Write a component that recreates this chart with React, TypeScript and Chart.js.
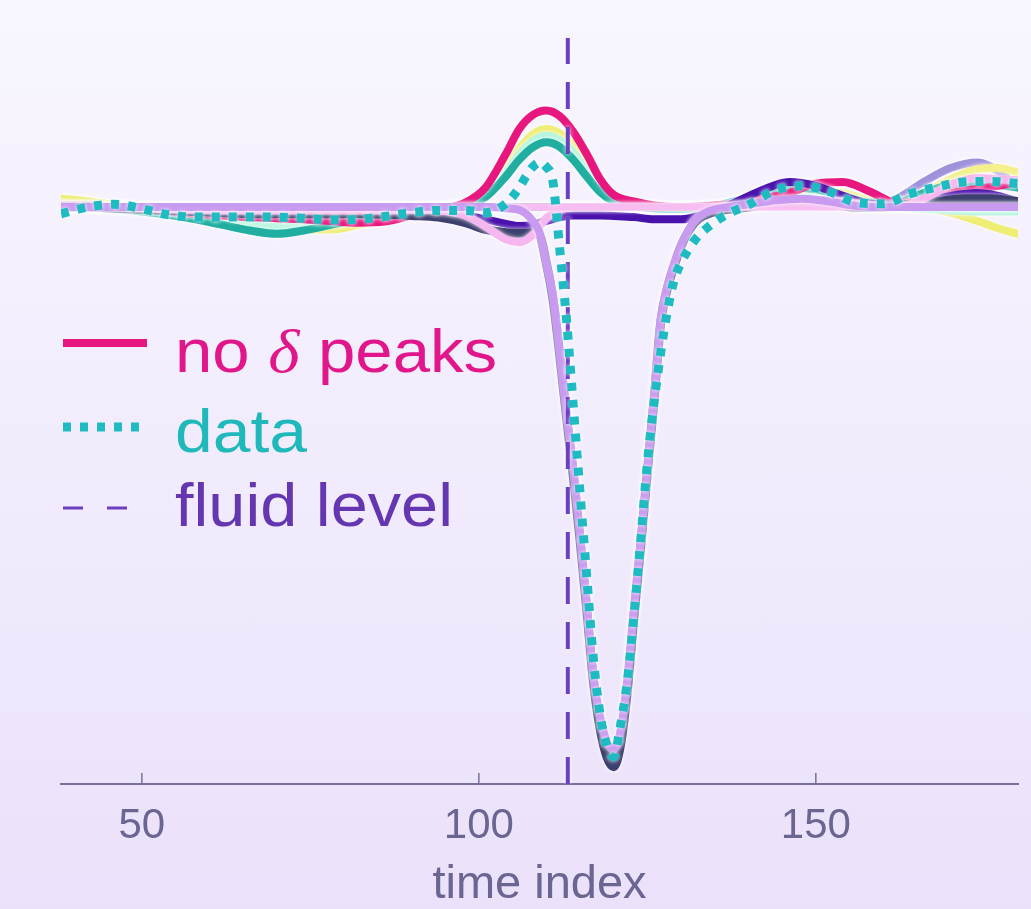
import React, { useEffect, useRef } from "react";
import { Chart, registerables } from "chart.js";

Chart.register(...registerables);

// ---------- data ----------
const timeCoarse = [38, 42, 46, 50, 54, 58, 62, 66, 70, 74, 78, 82, 86, 90, 94, 98, 101, 104, 106, 108, 110, 112, 114, 116, 118, 120, 123, 126, 130, 134, 138, 142, 146, 150, 154, 158, 162, 166, 170, 174, 177, 180];

const timeFine = [38, 42, 46, 50, 54, 58, 62, 66, 70, 74, 78, 82, 86, 90, 94, 98, 101, 104, 106, 107, 108, 109, 110, 111, 112, 113, 114, 115, 116, 117, 118, 119, 120, 121, 122, 123, 124, 125, 126, 127, 128, 129, 130, 132, 134, 137, 140, 144, 148, 152, 156, 160, 164, 168, 172, 176, 180];

// coarse-grid model curves
const noDeltaPeaks = [0.003, 0.003, 0.0, -0.003, -0.008, -0.012, -0.015, -0.018, -0.02, -0.022, -0.025, -0.028, -0.026, -0.015, -0.005, 0.008, 0.035, 0.095, 0.14, 0.165, 0.173, 0.163, 0.135, 0.095, 0.05, 0.022, 0.01, 0.003, 0.0, 0.002, 0.006, 0.015, 0.025, 0.042, 0.045, 0.028, 0.008, 0.01, 0.025, 0.033, 0.038, 0.045];
const yellowModel = [0.015, 0.01, 0.004, -0.002, -0.01, -0.02, -0.03, -0.04, -0.042, -0.04, -0.04, -0.032, -0.02, -0.01, -0.003, 0.006, 0.025, 0.07, 0.105, 0.13, 0.14, 0.132, 0.11, 0.075, 0.04, 0.018, 0.006, 0.0, -0.004, -0.004, 0.0, 0.01, 0.02, 0.028, 0.025, 0.012, 0.005, 0.0, -0.01, -0.025, -0.038, -0.048];
const paleYellowModel = [0.012, 0.008, 0.003, -0.002, -0.006, -0.01, -0.014, -0.016, -0.016, -0.014, -0.012, -0.01, -0.008, -0.005, -0.002, 0.004, 0.02, 0.06, 0.09, 0.112, 0.12, 0.112, 0.09, 0.06, 0.03, 0.01, 0.002, 0.0, 0.0, 0.0, 0.004, 0.01, 0.015, 0.015, 0.01, 0.004, 0.006, 0.025, 0.05, 0.068, 0.07, 0.062];
const mintModel = [0.004, 0.003, 0.0, -0.004, -0.01, -0.016, -0.022, -0.03, -0.035, -0.032, -0.028, -0.022, -0.015, -0.008, -0.003, 0.004, 0.02, 0.062, 0.095, 0.118, 0.128, 0.12, 0.098, 0.065, 0.033, 0.012, 0.002, -0.002, -0.004, -0.003, 0.0, 0.008, 0.016, 0.018, 0.012, 0.004, 0.0, -0.003, -0.006, -0.008, -0.008, -0.008];
const tealModel = [0.0, 0.0, -0.003, -0.008, -0.014, -0.022, -0.032, -0.042, -0.048, -0.042, -0.032, -0.022, -0.014, -0.007, -0.002, 0.004, 0.018, 0.055, 0.085, 0.107, 0.116, 0.108, 0.085, 0.055, 0.027, 0.01, 0.002, -0.002, -0.003, 0.0, 0.01, 0.025, 0.035, 0.032, 0.02, 0.008, 0.008, 0.025, 0.04, 0.045, 0.04, 0.035];
const indigoModel = [0.0, 0.0, -0.002, -0.004, -0.006, -0.008, -0.008, -0.008, -0.008, -0.008, -0.008, -0.008, -0.008, -0.008, -0.01, -0.015, -0.022, -0.03, -0.034, -0.032, -0.025, -0.018, -0.015, -0.015, -0.015, -0.016, -0.018, -0.022, -0.022, -0.01, 0.008, 0.03, 0.045, 0.038, 0.02, 0.006, 0.004, 0.01, 0.02, 0.025, 0.02, 0.01];
const lightPinkModel = [0.0, 0.0, 0.0, -0.002, -0.004, -0.005, -0.006, -0.006, -0.006, -0.006, -0.006, -0.006, -0.006, -0.005, -0.006, -0.015, -0.035, -0.058, -0.063, -0.05, -0.02, -0.005, 0.0, 0.0, 0.0, 0.0, 0.0, 0.0, 0.0, 0.0, 0.002, 0.005, 0.01, 0.012, 0.01, 0.003, 0.0, 0.015, 0.04, 0.052, 0.05, 0.048];
const grayLavenderModel = [0.0, 0.0, 0.0, 0.0, 0.0, 0.0, 0.0, 0.0, 0.0, 0.0, 0.0, 0.0, 0.0, 0.0, 0.0, 0.0, 0.0, 0.0, 0.0, 0.0, 0.0, 0.0, 0.0, 0.0, 0.0, 0.0, 0.0, 0.0, 0.0, 0.002, 0.004, 0.008, 0.012, 0.012, 0.006, 0.004, 0.015, 0.045, 0.07, 0.08, 0.065, 0.035];

// fine-grid curves (the ones that drop into the trough)
const dataSeries = [-0.012, 0.0, 0.005, -0.003, -0.014, -0.018, -0.018, -0.018, -0.018, -0.02, -0.023, -0.022, -0.017, -0.01, -0.006, -0.006, -0.01, 0.006, 0.035, 0.055, 0.072, 0.08, 0.072, 0.045, -0.075, -0.2, -0.355, -0.51, -0.66, -0.81, -0.91, -0.965, -0.985, -0.93, -0.853, -0.735, -0.6, -0.46, -0.35, -0.26, -0.185, -0.13, -0.1, -0.06, -0.036, -0.012, 0.004, 0.03, 0.038, 0.028, 0.008, 0.006, 0.024, 0.036, 0.045, 0.046, 0.042];
const lavenderModel = [0.0, 0.0, 0.0, 0.0, 0.0, 0.0, 0.0, 0.0, 0.0, 0.0, 0.0, 0.0, 0.0, 0.0, 0.0, 0.0, 0.0, -0.002, -0.005, -0.012, -0.025, -0.045, -0.1, -0.16, -0.26, -0.37, -0.465, -0.585, -0.71, -0.84, -0.915, -0.958, -0.972, -0.94, -0.85, -0.72, -0.6, -0.47, -0.34, -0.2, -0.14, -0.1, -0.068, -0.025, -0.008, 0.0, 0.005, 0.012, 0.015, 0.01, 0.002, 0.0, 0.0, 0.0, 0.0, 0.0, 0.0];
const navyModel = [0.0, 0.0, -0.002, -0.004, -0.006, -0.008, -0.01, -0.012, -0.012, -0.012, -0.012, -0.012, -0.013, -0.015, -0.018, -0.028, -0.04, -0.046, -0.047, -0.047, -0.046, -0.05, -0.1, -0.165, -0.265, -0.375, -0.48, -0.595, -0.72, -0.85, -0.935, -0.985, -1.003, -0.965, -0.87, -0.735, -0.61, -0.475, -0.345, -0.205, -0.145, -0.105, -0.07, -0.028, -0.012, -0.004, 0.0, 0.008, 0.01, 0.006, 0.0, 0.0, 0.005, 0.01, 0.015, 0.015, 0.01];

const fluidLevel = 113.2;
const baselineLevel = 0;
const xRange = [38, 180];
const yRange = [-1.034, 0.303];
const xTicks = [50, 100, 150];
const xTitle = "time index";
const legendLabels = ["no δ peaks", "data", "fluid level"];

// ---------- styling ----------
const SANS = '"Liberation Sans", Arial, Helvetica, sans-serif';
const SERIF = '"Liberation Serif", "DejaVu Serif", serif';
const AXIS_COLOR = "#75719a";
const TEXT_COLOR = "#6a6591";

const toPoints = (xs: number[], ys: number[]) => xs.map((x, i) => ({ x, y: ys[i] }));

export default function App() {
  const ref = useRef<HTMLCanvasElement>(null);

  useEffect(() => {
    const canvas = ref.current;
    if (!canvas) return;

    const halo = {
      id: "halo",
      beforeDatasetsDraw(chart: any) {
        const c = chart.ctx;
        c.save();
        c.shadowColor = "rgba(255,255,255,0.95)";
        c.shadowBlur = 4;
      },
      afterDatasetsDraw(chart: any) {
        chart.ctx.restore();
      },
    };

    const tickMarks = {
      id: "tickMarks",
      afterDraw(chart: any) {
        const s = chart.scales.x;
        const c = chart.ctx;
        const y = chart.chartArea.bottom;
        c.save();
        c.strokeStyle = AXIS_COLOR;
        c.lineWidth = 1.5;
        xTicks.forEach((v) => {
          const px = s.getPixelForValue(v);
          c.beginPath();
          c.moveTo(px, y);
          c.lineTo(px, y - 11);
          c.stroke();
        });
        c.restore();
      },
    };

    const legendStyle = [
      { text: "#e0168a", stroke: "#e8177f", width: 8, dash: [] as number[], lineY: 343, baseline: 372, targetW: 322 },
      { text: "#1fb8bb", stroke: "#1ebcc2", width: 9, dash: [8, 9], lineY: 427, baseline: 452, targetW: 132 },
      { text: "#6436b0", stroke: "#6a3fc0", width: 3, dash: [20, 24], lineY: 508, baseline: 526, targetW: 278 },
    ];

    const customLegend = {
      id: "customLegend",
      afterDraw(chart: any) {
        const c = chart.ctx;
        const fs = 62;
        legendLabels.forEach((label, i) => {
          const st = legendStyle[i];
          c.save();
          c.beginPath();
          c.setLineDash(st.dash);
          c.lineCap = "butt";
          c.strokeStyle = st.stroke;
          c.lineWidth = st.width;
          c.moveTo(63, st.lineY);
          c.lineTo(147, st.lineY);
          c.stroke();
          c.setLineDash([]);

          const parts: { t: string; f: string }[] = [];
          label.split(/(δ)/).forEach((p) => {
            if (!p) return;
            parts.push({ t: p, f: p === "δ" ? `italic ${fs}px ${SERIF}` : `${fs}px ${SANS}` });
          });
          let natural = 0;
          parts.forEach((p) => {
            c.font = p.f;
            natural += c.measureText(p.t).width;
          });
          const sx = st.targetW / natural;
          c.translate(175, st.baseline);
          c.scale(sx, 1);
          c.fillStyle = st.text;
          c.textBaseline = "alphabetic";
          c.textAlign = "left";
          let x = 0;
          parts.forEach((p) => {
            c.font = p.f;
            c.fillText(p.t, x, 0);
            x += c.measureText(p.t).width;
          });
          c.restore();
        });
      },
    };

    const line = (data: any[], color: string, width: number, order: number, extra: any = {}) => ({
      data,
      borderColor: color,
      backgroundColor: color,
      borderWidth: width,
      pointRadius: 0,
      pointHoverRadius: 0,
      fill: false,
      cubicInterpolationMode: "monotone",
      borderCapStyle: "round",
      borderJoinStyle: "round",
      order,
      ...extra,
    });

    const chart = new Chart(canvas, {
      type: "line",
      data: {
        datasets: [
          line(toPoints(timeCoarse, grayLavenderModel), "#a092da", 8, 12),
          line(toPoints(timeCoarse, paleYellowModel), "#f4f08c", 8, 11),
          line(toPoints(timeCoarse, yellowModel), "#eeee74", 8, 10),
          line(toPoints(timeCoarse, mintModel), "#b6f5e0", 8, 9),
          line(toPoints(timeCoarse, tealModel), "#1fae9f", 8, 8),
          line(toPoints(timeCoarse, noDeltaPeaks), "#e8177f", 8, 7),
          line(toPoints(timeCoarse, indigoModel), "#4a12ad", 8, 6),
          line(toPoints(timeFine, navyModel), "#3d3f6e", 9, 5),
          line(toPoints(timeCoarse, lightPinkModel), "#f6b6ef", 8, 4),
          line(
            [
              { x: xRange[0], y: baselineLevel },
              { x: xRange[1], y: baselineLevel },
            ],
            "#f7bdf1",
            7,
            3,
            { cubicInterpolationMode: "default", tension: 0 }
          ),
          line(toPoints(timeFine, lavenderModel), "#c99bf0", 8, 2),
          line(
            [
              { x: fluidLevel, y: yRange[0] },
              { x: fluidLevel, y: yRange[1] },
            ],
            "#6a3fc0",
            4,
            1,
            { cubicInterpolationMode: "default", tension: 0, borderDash: [27, 18], borderCapStyle: "butt" }
          ),
          line(toPoints(timeFine, dataSeries), "#1ebcc2", 9, 0, { borderDash: [8, 9], borderCapStyle: "butt" }),
        ],
      },
      options: {
        responsive: false,
        animation: false,
        devicePixelRatio: 1,
        events: [],
        layout: { padding: { left: 61, right: 13, top: 38, bottom: 0 } },
        plugins: {
          legend: { display: false },
          tooltip: { enabled: false },
        },
        scales: {
          x: {
            type: "linear",
            min: xRange[0],
            max: xRange[1],
            afterBuildTicks: (s: any) => {
              s.ticks = xTicks.map((v) => ({ value: v }));
            },
            afterFit: (s: any) => {
              s.height = 125;
            },
            grid: { display: false, drawTicks: false },
            border: { display: true, color: AXIS_COLOR, width: 2 },
            ticks: {
              color: TEXT_COLOR,
              font: { family: SANS, size: 42 },
              padding: 17,
              maxRotation: 0,
              autoSkip: false,
            },
            title: {
              display: true,
              text: xTitle,
              color: TEXT_COLOR,
              font: { family: SANS, size: 47, lineHeight: 1 },
              padding: { top: 0, bottom: 0 },
            },
          },
          y: {
            type: "linear",
            display: false,
            min: yRange[0],
            max: yRange[1],
          },
        },
      } as any,
      plugins: [halo, tickMarks, customLegend],
    } as any);

    return () => chart.destroy();
  }, []);

  return (
    <div
      style={{
        position: "fixed",
        left: 0,
        top: 0,
        width: 1031,
        height: 909,
        background: "linear-gradient(180deg, #f8f6fe 0%, #f2edfd 45%, #ebe1fa 100%)",
      }}
    >
      <canvas ref={ref} width={1031} height={909} style={{ display: "block", width: 1031, height: 909 }} />
    </div>
  );
}
